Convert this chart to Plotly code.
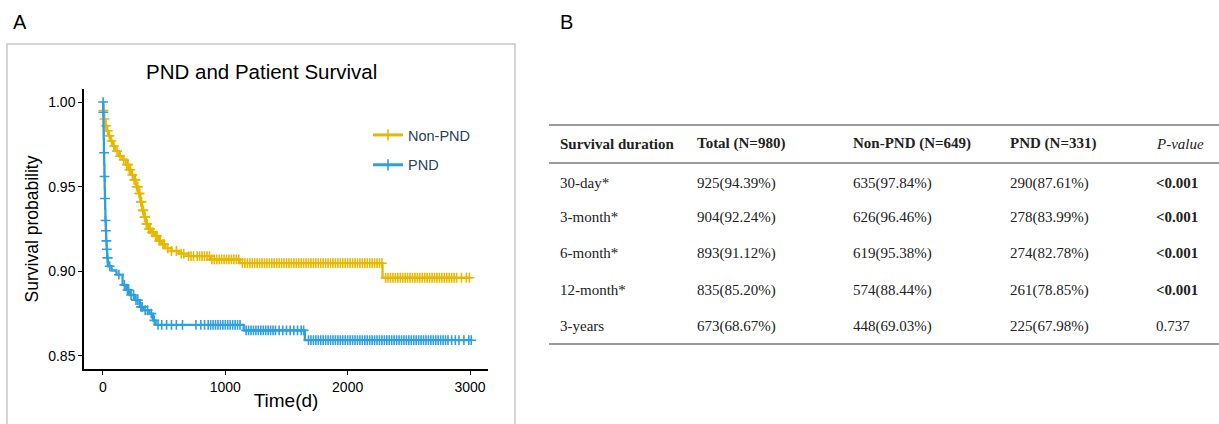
import numpy as np
import plotly.graph_objects as go

# ---------------- data ----------------
group_names = ["Non-PND", "PND"]
colors = ["#E7B800", "#2E9FDF"]

nonpnd_time = [0, 3, 10, 20, 30, 45, 60, 80, 100, 130, 160, 190, 210, 230, 250, 270, 290, 305,
               320, 335, 350, 370, 395, 420, 450, 480, 510, 560, 620, 700, 880, 1120, 2285]
nonpnd_surv = [1.0, 0.995, 0.99, 0.986, 0.983, 0.98, 0.977, 0.974, 0.971, 0.968, 0.966, 0.963,
               0.96, 0.957, 0.954, 0.95, 0.946, 0.941, 0.936, 0.932, 0.928, 0.925, 0.923, 0.921,
               0.918, 0.916, 0.9136, 0.912, 0.9105, 0.909, 0.907, 0.9048, 0.8962]
nonpnd_end = 3000
nonpnd_censor = [5, 12, 25, 38, 52, 70, 90, 115, 140, 170, 195, 205, 215, 225, 240, 255, 265, 275,
                 285, 295, 300, 310, 315, 325, 330, 340, 345, 355, 362, 375, 385, 400, 410, 430,
                 440, 460, 470, 490, 500, 530, 560, 600, 640, 660, 700, 720, 740, 770, 790, 810,
                 830, 850, 870, 890, 910, 930, 950, 970, 990, 1010, 1030, 1050, 1070, 1090, 1110,
                 1140, 1160, 1180, 1200, 1220, 1240, 1260, 1280, 1300, 1320, 1340, 1360, 1380,
                 1400, 1420, 1440, 1460, 1480, 1500, 1520, 1540, 1560, 1580, 1600, 1620, 1640,
                 1660, 1680, 1700, 1720, 1740, 1760, 1780, 1800, 1820, 1840, 1860, 1880, 1900,
                 1920, 1940, 1960, 1980, 2000, 2020, 2040, 2060, 2080, 2100, 2120, 2140, 2160,
                 2180, 2200, 2220, 2240, 2260, 2280, 2310, 2330, 2350, 2370, 2390, 2410, 2430,
                 2450, 2470, 2490, 2510, 2530, 2550, 2570, 2590, 2610, 2630, 2650, 2670, 2690,
                 2710, 2730, 2750, 2770, 2790, 2810, 2830, 2850, 2870, 2890, 2930, 2970, 2995]

pnd_time = [0, 2, 4, 6, 8, 10, 12, 14, 16, 18, 20, 23, 26, 30, 34, 40, 70, 110, 160, 190, 220,
            260, 300, 330, 380, 410, 430, 1150, 1650]
pnd_surv = [1.0, 0.994, 0.985, 0.978, 0.97, 0.963, 0.956, 0.949, 0.943, 0.937, 0.93, 0.924,
            0.918, 0.913, 0.908, 0.903, 0.9005, 0.898, 0.892, 0.889, 0.886, 0.883, 0.879, 0.877,
            0.875, 0.871, 0.8684, 0.8651, 0.8593]
pnd_end = 3010
pnd_censor = [1, 3, 9, 13, 17, 21, 24, 28, 32, 36, 38, 55, 130, 175, 200, 210, 230, 250, 270,
              285, 310, 320, 345, 365, 395, 420, 450, 480, 520, 560, 600, 650, 760, 800, 830, 860,
              880, 900, 920, 940, 960, 980, 1000, 1020, 1040, 1060, 1080, 1100, 1120, 1170, 1190,
              1210, 1230, 1250, 1270, 1290, 1310, 1330, 1350, 1370, 1390, 1410, 1440, 1470, 1500,
              1530, 1560, 1590, 1620, 1640, 1680, 1700, 1720, 1740, 1760, 1780, 1800, 1820, 1840,
              1860, 1880, 1900, 1920, 1940, 1960, 1980, 2000, 2020, 2040, 2060, 2080, 2100, 2120,
              2140, 2160, 2180, 2200, 2220, 2240, 2260, 2280, 2300, 2320, 2340, 2360, 2380, 2400,
              2420, 2440, 2460, 2480, 2500, 2520, 2540, 2560, 2580, 2600, 2620, 2640, 2660, 2680,
              2700, 2720, 2740, 2760, 2780, 2800, 2820, 2850, 2880, 2910, 2950, 2990, 3010]

x_ticks = [0, 1000, 2000, 3000]
y_ticks = [0.85, 0.90, 0.95, 1.00]

table_header = ["Survival duration", "Total (N=980)", "Non-PND (N=649)", "PND (N=331)", "P-value"]
row_labels = ["30-day*", "3-month*", "6-month*", "12-month*", "3-years"]
total_col = ["925(94.39%)", "904(92.24%)", "893(91.12%)", "835(85.20%)", "673(68.67%)"]
nonpnd_col = ["635(97.84%)", "626(96.46%)", "619(95.38%)", "574(88.44%)", "448(69.03%)"]
pnd_col = ["290(87.61%)", "278(83.99%)", "274(82.78%)", "261(78.85%)", "225(67.98%)"]
pvalue_col = ["<0.001", "<0.001", "<0.001", "<0.001", "0.737"]

# ---------------- figure ----------------
W, H = 1219, 424
fig = go.Figure()

curves = [(nonpnd_time, nonpnd_surv, nonpnd_end, nonpnd_censor),
          (pnd_time, pnd_surv, pnd_end, pnd_censor)]

for name, col, (t, s, tend, cens) in zip(group_names, colors, curves):
    tt = list(t) + [tend]
    ss = list(s) + [s[-1]]
    idx = np.searchsorted(np.array(t), np.array(cens), side="right") - 1
    cy = np.array(s)[idx]
    fig.add_trace(go.Scatter(x=tt, y=ss, mode="lines", line=dict(color=col, width=2.3, shape="hv"),
                             name=name, legendgroup=name, showlegend=False, hoverinfo="skip"))
    fig.add_trace(go.Scatter(x=cens, y=cy, mode="markers",
                             marker=dict(symbol="cross-thin", size=7, line=dict(width=1.6, color=col), color=col),
                             name=name, legendgroup=name, showlegend=False, hoverinfo="skip"))
    # legend entry
    fig.add_trace(go.Scatter(x=[None], y=[None], mode="lines+markers",
                             line=dict(color=col, width=3),
                             marker=dict(symbol="cross-thin", size=8, line=dict(width=1.6, color=col), color=col),
                             name=name, legendgroup=name, showlegend=True))

def px(x):
    return x / W

def py(y):
    return 1 - y / H

fig.update_layout(
    width=W, height=H,
    margin=dict(l=0, r=0, t=0, b=0),
    paper_bgcolor="white", plot_bgcolor="white",
    font=dict(family="Liberation Sans, Arial", color="black"),
    xaxis=dict(domain=[px(84), px(488)], range=[-155, 3147], tickvals=x_ticks,
               showgrid=False, zeroline=False, showline=True, linecolor="black", linewidth=1.5,
               ticks="outside", ticklen=4, tickcolor="black", tickfont=dict(size=14),
               title=dict(text="Time(d)", font=dict(size=19), standoff=0)),
    yaxis=dict(domain=[py(369), py(89)], range=[0.8423, 1.0077], tickvals=y_ticks, tickformat=".2f",
               showgrid=False, zeroline=False, showline=True, linecolor="black", linewidth=1.5,
               ticks="outside", ticklen=4, tickcolor="black", tickfont=dict(size=14),
               title=dict(text="Survival probability", font=dict(size=17.5), standoff=5)),
    legend=dict(x=px(368), y=py(119), xanchor="left", yanchor="top", bgcolor="rgba(0,0,0,0)",
                font=dict(size=14.5, color="#2a3f5f"), itemwidth=30, tracegroupgap=8),
)

# panel border
fig.add_shape(type="rect", xref="paper", yref="paper", x0=px(7), x1=px(515), y0=-0.05, y1=py(44),
              line=dict(color="#c8c8c8", width=1.5))

ann = []
ann.append(dict(text="A", x=px(11), y=py(22), xanchor="left", yanchor="middle", font=dict(size=20)))
ann.append(dict(text="B", x=px(558), y=py(22), xanchor="left", yanchor="middle", font=dict(size=20)))
ann.append(dict(text="PND and Patient Survival", x=px(261), y=py(71), xanchor="center", yanchor="middle",
                font=dict(size=20.5)))

# table
col_x = [558, 695, 851, 1008, 1154]
header_y = 144
row_y = [183, 217, 253, 290, 326]
serif = "Liberation Serif, Times New Roman, serif"
for i, h in enumerate(table_header):
    txt = "<i>%s</i>" % h if h == "P-value" else "<b>%s</b>" % h
    ann.append(dict(text=txt, x=px(col_x[i]), y=py(header_y), xanchor="left", yanchor="middle",
                    font=dict(size=15, family=serif, color="#222")))
for r in range(len(row_labels)):
    vals = [row_labels[r], total_col[r], nonpnd_col[r], pnd_col[r], pvalue_col[r]]
    for i, v in enumerate(vals):
        txt = v.replace("<", "&lt;")
        if i == 4 and v.startswith("<"):
            txt = "<b>%s</b>" % txt
        ann.append(dict(text=txt, x=px(col_x[i]), y=py(row_y[r]), xanchor="left", yanchor="middle",
                        font=dict(size=15, family=serif, color="#222")))
for a in ann:
    a.update(xref="paper", yref="paper", showarrow=False)
fig.update_layout(annotations=ann)

for ly in [125, 163, 344]:
    fig.add_shape(type="line", xref="paper", yref="paper", x0=px(549), x1=1, y0=py(ly), y1=py(ly),
                  line=dict(color="#9a9a9a", width=2))

fig.write_html("out.html")
